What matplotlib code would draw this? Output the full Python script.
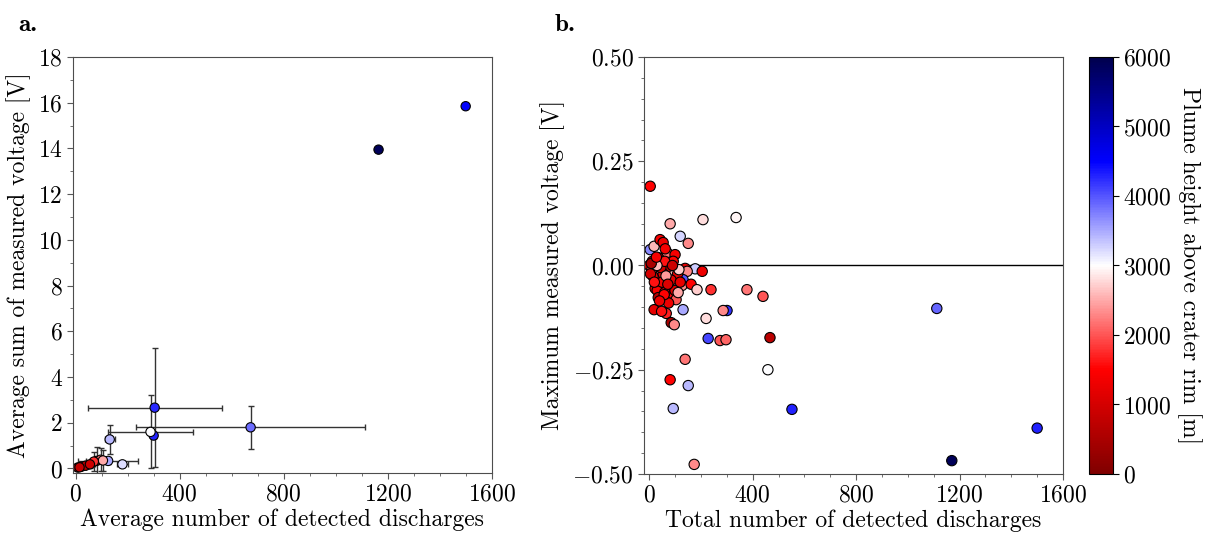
import numpy as np
import matplotlib
matplotlib.use('Agg')
import matplotlib.pyplot as plt
from matplotlib.ticker import MultipleLocator

plt.rcParams['font.family'] = 'serif'
plt.rcParams['font.serif'] = ['cmr10']
plt.rcParams['mathtext.fontset'] = 'cm'
plt.rcParams['axes.formatter.use_mathtext'] = True
plt.rcParams['axes.unicode_minus'] = True

# panel a: averages with errors, coloured by plume height
avg_n = [1500, 1165, 304, 300, 288, 673, 131, 125, 180, 81, 96, 105, 70, 8, 23, 38, 55, 15]
avg_v = [15.85, 13.95, 2.66, 1.44, 1.6, 1.8, 1.27, 0.33, 0.18, 0.33, 0.38, 0.35, 0.3, 0.04, 0.08, 0.12, 0.18, 0.05]
avg_n_err = [3, 3, 258, 10, 162, 440, 19, 115, 20, 40, 30, 25, 30, 10, 15, 15, 20, 10]
avg_v_err = [0.05, 0.05, 2.6, 0.1, 1.6, 0.94, 0.63, 0.15, 0.12, 0.62, 0.5, 0.45, 0.4, 0.05, 0.08, 0.1, 0.15, 0.05]
avg_h = [4500, 5900, 4250, 4300, 3000, 3850, 3400, 3500, 3200, 1300, 2200, 2500, 1800, 500, 600, 700, 900, 800]

# panel b: single events
tot_n = [1500, 1170, 552, 1112, 459, 467, 378, 440, 4, 81, 208, 336, 120, 151, 4, 19, 42, 54,
         69, 100, 12, 0, 35, 93, 77, 139, 178, 205, 147, 93, 131, 39, 15, 54, 23, 70, 127, 162,
         185, 239, 31, 35, 89, 104, 60, 46, 19, 66, 85, 97, 131, 220, 301, 286, 228, 274, 297,
         139, 81, 151, 93, 174, 10, 25, 45, 60, 110, 85, 50, 5, 20, 75, 100, 120, 65, 30, 115,
         8, 58, 72, 40, 28, 112, 90, 48, 62]
max_v = [-0.39, -0.468, -0.345, -0.103, -0.25, -0.173, -0.058, -0.074, 0.19, 0.10, 0.11, 0.115,
         0.07, 0.053, 0.038, 0.046, 0.062, 0.055, 0.031, 0.026, 0.01, 0.0, 0.019, 0.01, -0.005,
         -0.007, -0.008, -0.014, -0.014, -0.024, -0.034, -0.031, -0.026, -0.02, -0.055, -0.05,
         -0.048, -0.045, -0.058, -0.058, -0.06, -0.077, -0.067, -0.082, -0.065, -0.094, -0.106,
         -0.115, -0.137, -0.142, -0.106, -0.127, -0.108, -0.108, -0.175, -0.18, -0.178, -0.225,
         -0.274, -0.288, -0.343, -0.477, -0.01, 0.005, -0.005, 0.01, -0.02, -0.035, -0.04, -0.02,
         -0.04, -0.09, -0.06, -0.04, -0.025, 0.0, -0.01, 0.005, -0.07, -0.045, -0.085, 0.02,
         -0.065, 0.0, -0.11, 0.04]
tot_h = [4300, 5900, 4300, 3900, 3000, 700, 2200, 2000, 1500, 2500, 2800, 2950, 3250, 2300, 3700,
         2600, 1400, 1300, 2200, 1400, 1300, 1200, 1500, 1500, 800, 1200, 3300, 1300, 2300, 2600,
         4000, 1400, 1300, 1200, 1300, 1400, 2300, 1500, 2700, 1800, 1400, 700, 1400, 2000, 1500,
         2800, 1200, 1700, 500, 2300, 3500, 2800, 4200, 2300, 4100, 2000, 2100, 2200, 1500, 3400,
         3400, 2300, 2000, 1200, 900, 1600, 1300, 1200, 1300, 1000, 1600, 1300, 1100, 1200, 2400,
         2600, 2700, 500, 1500, 1100, 1300, 1400, 2500, 900, 1600, 1400]

cmap = 'seismic_r'
norm = plt.Normalize(0, 6000)

fig = plt.figure(figsize=(12.11, 5.36), dpi=100)
ax1 = fig.add_axes([0.0603, 0.1175, 0.3457, 0.776])
ax2 = fig.add_axes([0.5318, 0.1157, 0.346, 0.7780])
cax = fig.add_axes([0.8995, 0.1157, 0.0195, 0.7780])

ax1.errorbar(avg_n, avg_v, xerr=avg_n_err, yerr=avg_v_err, fmt='none', ecolor='0.2',
             elinewidth=1, capsize=2, capthick=1, zorder=1)
ax1.scatter(avg_n, avg_v, c=avg_h, cmap=cmap, norm=norm, s=45, edgecolors='k',
            linewidths=0.8, zorder=2)
ax1.set_xlim(-10, 1600)
ax1.set_ylim(-0.2, 18)
ax1.xaxis.set_major_locator(MultipleLocator(400))
ax1.xaxis.set_minor_locator(MultipleLocator(100))
ax1.yaxis.set_major_locator(MultipleLocator(2))
ax1.yaxis.set_minor_locator(MultipleLocator(1))
ax1.set_xlabel('Average number of detected discharges', fontsize=17, labelpad=2)
ax1.set_ylabel('Average sum of measured voltage [V]', fontsize=17, labelpad=5)

ax2.axhline(0, color='k', lw=1, zorder=1)
sc = ax2.scatter(tot_n, max_v, c=tot_h, cmap=cmap, norm=norm, s=55, edgecolors='k',
                 linewidths=0.8, zorder=2)
ax2.set_xlim(-20, 1600)
ax2.set_ylim(-0.5, 0.5)
ax2.xaxis.set_major_locator(MultipleLocator(400))
ax2.xaxis.set_minor_locator(MultipleLocator(100))
ax2.yaxis.set_major_locator(MultipleLocator(0.25))
ax2.yaxis.set_minor_locator(MultipleLocator(0.05))
ax2.set_xlabel('Total number of detected discharges', fontsize=17, labelpad=2)
ax2.set_ylabel('Maximum measured voltage [V]', fontsize=17, labelpad=5)

for ax in (ax1, ax2):
    ax.tick_params(which='both', labelsize=17, color='0.35', direction='out')
    ax.tick_params(which='major', length=4)
    ax.tick_params(which='minor', length=2.5)
    for sp in ax.spines.values():
        sp.set_color('0.3')

cb = fig.colorbar(sc, cax=cax)
cb.set_ticks(np.arange(0, 6001, 1000))
cb.ax.tick_params(labelsize=17, length=4)
cb.set_label('Plume height above crater rim [m]', fontsize=17, rotation=270, labelpad=22)

fig.text(0.015, 0.942, 'a.', fontsize=18, fontfamily='cmb10')
fig.text(0.458, 0.942, 'b.', fontsize=18, fontfamily='cmb10')

fig.savefig('out.png', dpi=100)
